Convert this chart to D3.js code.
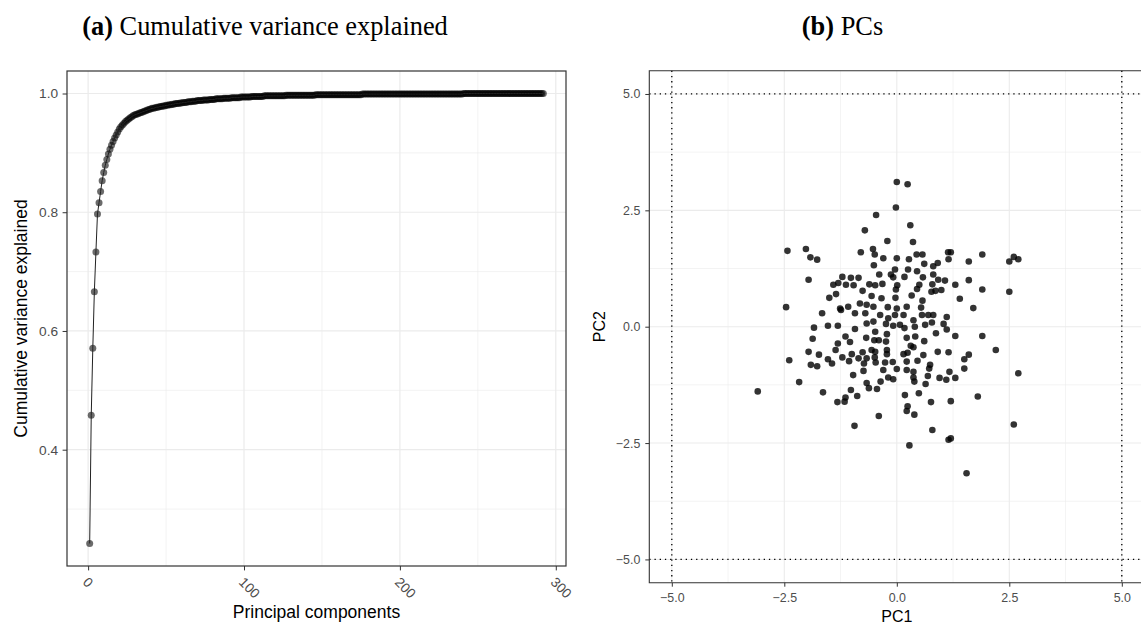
<!DOCTYPE html>
<html>
<head>
<meta charset="utf-8">
<script src="https://cdn.jsdelivr.net/npm/d3@7"></script>
<style>
html, body { margin: 0; padding: 0; background: #fff; overflow: hidden; }
svg { display: block; }
svg text { font-family: "Liberation Sans", Arial, sans-serif; }
.tick text { fill: #4d4d4d; }
.tick line { stroke: #333; }
.pa .tick text { font-size: 13.7px; }
.pb .tick text { font-size: 12.4px; }
.title { font-family: "Liberation Serif", "Times New Roman", serif !important; font-size: 26.4px; fill: #000; }
.axis-title { fill: #000; }
</style>
</head>
<body>
<div id="chart"></div>
<script>
// ---- data ----
// (a) cumulative variance explained, PC 1..292
var cumVar = [
  0.242,0.458,0.571,0.666,0.733,0.797,0.816,0.835,0.853,0.867,
  0.879,0.889,0.898,0.906,0.913,0.919,0.925,0.930,0.935,0.940,
  0.944,0.947,0.950,0.953,0.955,0.957,0.959,0.961,0.963,0.964,
  0.965,0.966,0.967,0.968,0.969,0.970,0.971,0.972,0.973,0.974,
  0.975,0.975,0.976,0.977,0.977,0.978,0.978,0.979,0.979,0.980,
  0.980,0.981,0.981,0.982,0.982,0.983,0.983,0.983,0.984,0.984,
  0.985,0.985,0.985,0.986,0.986,0.986,0.987,0.987,0.987,0.988,
  0.988,0.988,0.988,0.989,0.989,0.989,0.989,0.990,0.990,0.990,
  0.990,0.991,0.991,0.991,0.991,0.991,0.992,0.992,0.992,0.992,
  0.992,0.993,0.993,0.993,0.993,0.993,0.993,0.994,0.994,0.994,
  0.994,0.994,0.994,0.994,0.995,0.995,0.995,0.995,0.995,0.995,
  0.995,0.995,0.996,0.996,0.996,0.996,0.996,0.996,0.996,0.996,
  0.996,0.996,0.996,0.996,0.996,0.996,0.997,0.997,0.997,0.997,
  0.997,0.997,0.997,0.997,0.997,0.997,0.997,0.997,0.997,0.997,
  0.997,0.997,0.997,0.997,0.997,0.998,0.998,0.998,0.998,0.998,
  0.998,0.998,0.998,0.998,0.998,0.998,0.998,0.998,0.998,0.998,
  0.998,0.998,0.998,0.998,0.998,0.998,0.998,0.998,0.998,0.998,
  0.998,0.998,0.998,0.998,0.998,0.999,0.999,0.999,0.999,0.999,
  0.999,0.999,0.999,0.999,0.999,0.999,0.999,0.999,0.999,0.999,
  0.999,0.999,0.999,0.999,0.999,0.999,0.999,0.999,0.999,0.999,
  0.999,0.999,0.999,0.999,0.999,0.999,0.999,0.999,0.999,0.999,
  0.999,0.999,0.999,0.999,0.999,0.999,0.999,0.999,0.999,0.999,
  0.999,0.999,0.999,0.999,0.999,0.999,0.999,0.999,0.999,0.999,
  0.999,0.999,0.999,0.999,0.999,0.999,0.999,0.999,0.999,0.999,
  1.000,1.000,1.000,1.000,1.000,1.000,1.000,1.000,1.000,1.000,
  1.000,1.000,1.000,1.000,1.000,1.000,1.000,1.000,1.000,1.000,
  1.000,1.000,1.000,1.000,1.000,1.000,1.000,1.000,1.000,1.000,
  1.000,1.000,1.000,1.000,1.000,1.000,1.000,1.000,1.000,1.000,
  1.000,1.000,1.000,1.000,1.000,1.000,1.000,1.000,1.000,1.000,
  1.000,1.000
];
var pcIndex = cumVar.map(function(d, i) { return i + 1; });

// (b) PC scores
var pc1 = [
  0.00,0.24,-0.02,-0.46,0.30,-0.71,-0.21,0.36,-2.43,-2.02,
  -1.92,-1.77,-0.80,-0.53,-0.49,-0.30,0.00,0.27,0.44,0.57,
  0.61,0.81,0.91,1.15,1.14,-1.96,-0.51,-0.04,0.25,0.45,
  -0.13,-0.39,-0.08,0.17,0.58,0.81,0.92,1.07,-1.21,-1.02,
  -0.85,-1.41,-1.30,-1.13,-0.96,-0.61,-0.48,-0.32,0.01,-0.02,
  0.50,0.45,0.79,0.77,0.86,0.99,-1.35,-1.50,-0.76,-0.56,
  -0.34,-0.03,0.33,0.57,-2.46,-1.26,-1.08,-0.82,-0.67,-0.52,
  -0.20,0.00,0.22,0.54,-1.66,-1.24,-0.93,-0.70,-0.67,-0.52,
  -0.37,-0.19,-0.04,0.15,0.37,0.56,0.70,0.81,1.11,-1.84,
  -1.53,-1.31,-0.93,-0.48,-0.24,-0.08,0.07,0.17,0.40,0.63,
  0.78,1.04,1.11,0.87,-1.87,-1.14,-1.04,-1.31,-0.68,-0.50,
  -0.40,-0.24,-0.22,0.22,0.41,0.61,0.31,0.37,-1.96,-1.73,
  -1.36,-1.00,-0.76,-0.56,-0.48,-0.22,-0.22,0.15,0.24,0.59,
  0.91,1.15,-2.39,-1.91,-1.77,-1.53,-1.44,-1.21,-1.06,-0.85,
  -0.67,-0.73,-0.49,-0.47,-0.26,-0.09,0.22,0.46,0.74,0.72,
  0.00,0.22,0.37,-0.30,-0.74,-0.97,-0.19,-0.08,0.37,0.39,
  0.69,0.95,1.10,1.17,-2.17,-0.67,-0.62,-0.44,-0.36,0.64,
  -3.09,-1.64,-1.02,-0.88,-1.14,-1.32,-1.16,0.18,0.49,0.76,
  0.24,0.22,0.39,-0.40,-0.94,0.79,1.15,0.28,
  1.20,1.60,1.90,2.50,2.60,2.70,2.50,1.90,1.60,1.30,
  1.40,1.70,2.20,1.30,1.60,1.50,1.90,2.70,1.30,1.80,
  1.20,2.60,1.55,1.20,1.50
];
var pc2 = [
  3.11,3.06,2.56,2.40,2.18,2.07,1.84,1.82,1.63,1.67,
  1.49,1.44,1.60,1.67,1.55,1.47,1.47,1.45,1.55,1.55,
  1.35,1.30,1.37,1.45,1.60,1.01,1.32,1.23,1.23,1.19,
  1.12,1.12,1.06,1.07,1.06,1.12,1.01,0.99,1.07,1.05,
  1.05,0.90,0.94,0.90,0.89,0.91,0.89,0.92,0.89,0.80,
  0.90,0.81,0.91,0.75,0.77,0.79,0.70,0.62,0.77,0.66,
  0.61,0.62,0.67,0.56,0.42,0.39,0.43,0.50,0.47,0.43,
  0.42,0.39,0.43,0.41,0.29,0.36,0.29,0.29,0.07,0.11,
  0.25,0.18,0.25,0.25,0.14,0.25,0.25,0.25,0.21,-0.02,
  0.02,0.02,-0.05,-0.11,0.06,0.02,0.04,-0.03,0.00,0.04,
  0.09,0.06,-0.06,-0.14,-0.26,-0.21,-0.33,-0.36,-0.24,-0.29,
  -0.29,-0.32,-0.16,-0.24,-0.21,-0.31,-0.41,-0.44,-0.54,-0.60,
  -0.50,-0.59,-0.55,-0.50,-0.54,-0.50,-0.59,-0.59,-0.56,-0.61,
  -0.54,-0.55,-0.72,-0.82,-0.85,-0.70,-0.79,-0.66,-0.74,-0.68,
  -0.68,-0.79,-0.66,-0.77,-0.77,-0.76,-0.75,-0.73,-0.82,-0.90,
  -0.91,-0.93,-0.97,-0.93,-0.95,-1.04,-1.09,-1.13,-1.09,-1.18,
  -1.06,-1.10,-1.14,-0.97,-1.19,-1.21,-1.32,-1.34,-1.18,-1.23,
  -1.39,-1.41,-1.36,-1.49,-1.52,-1.62,-1.61,-1.47,-1.43,-1.62,
  -1.71,-1.81,-1.89,-1.92,-2.13,-2.22,-2.43,-2.55,
  1.60,1.40,1.55,1.40,1.50,1.45,0.75,0.80,1.00,0.90,
  0.60,0.40,-0.50,-0.20,-0.60,-0.70,-0.20,-1.00,-1.10,-1.50,
  -1.60,-2.10,-3.15,-2.40,-0.90
];
var scores = pc1.map(function(d, i) { return {x: d, y: pc2[i]}; });

var refLines = [-5, 5];

var svg = d3.select("#chart").append("svg")
  .attr("width", 1141)
  .attr("height", 626);

// ---------- panel (a) ----------
var aBox = {left: 67, top: 71, right: 566, bottom: 566};

var xA = d3.scaleLinear()
  .domain([1 - 0.05 * 291, 292 + 0.05 * 291])
  .range([aBox.left, aBox.right]);
var yA = d3.scaleLinear()
  .domain([0.242 - 0.05 * 0.758, 1.0 + 0.05 * 0.758])
  .range([aBox.bottom, aBox.top]);

var gA = svg.append("g").attr("class", "pa");

gA.append("rect")
  .attr("x", aBox.left).attr("y", aBox.top)
  .attr("width", aBox.right - aBox.left).attr("height", aBox.bottom - aBox.top)
  .attr("fill", "#fff");

// grid lines
gA.selectAll(".gx-minor").data([50, 150, 250]).enter().append("line")
  .attr("x1", d => xA(d)).attr("x2", d => xA(d))
  .attr("y1", aBox.top).attr("y2", aBox.bottom)
  .attr("stroke", "#ebebeb").attr("stroke-width", 0.6);
gA.selectAll(".gy-minor").data([0.3, 0.5, 0.7, 0.9]).enter().append("line")
  .attr("y1", d => yA(d)).attr("y2", d => yA(d))
  .attr("x1", aBox.left).attr("x2", aBox.right)
  .attr("stroke", "#ebebeb").attr("stroke-width", 0.6);
gA.selectAll(".gx").data([0, 100, 200, 300]).enter().append("line")
  .attr("x1", d => xA(d)).attr("x2", d => xA(d))
  .attr("y1", aBox.top).attr("y2", aBox.bottom)
  .attr("stroke", "#ebebeb").attr("stroke-width", 1.2);
gA.selectAll(".gy").data([0.4, 0.6, 0.8, 1.0]).enter().append("line")
  .attr("y1", d => yA(d)).attr("y2", d => yA(d))
  .attr("x1", aBox.left).attr("x2", aBox.right)
  .attr("stroke", "#ebebeb").attr("stroke-width", 1.2);

var line = d3.line()
  .x((d, i) => xA(pcIndex[i]))
  .y(d => yA(d));

gA.selectAll("circle").data(cumVar).enter().append("circle")
  .attr("cx", (d, i) => xA(pcIndex[i]))
  .attr("cy", d => yA(d))
  .attr("r", 3.5)
  .attr("fill", "#000")
  .attr("fill-opacity", 0.58);

gA.append("path")
  .datum(cumVar)
  .attr("d", line)
  .attr("fill", "none")
  .attr("stroke", "#222")
  .attr("stroke-width", 1);

gA.append("rect")
  .attr("x", aBox.left).attr("y", aBox.top)
  .attr("width", aBox.right - aBox.left).attr("height", aBox.bottom - aBox.top)
  .attr("fill", "none").attr("stroke", "#333").attr("stroke-width", 1.2);

var xAxisA = gA.append("g")
  .attr("transform", `translate(0, ${aBox.bottom})`)
  .call(d3.axisBottom(xA).tickValues([0, 100, 200, 300]).tickSize(4.4));
xAxisA.select(".domain").remove();
xAxisA.selectAll("text")
  .attr("x", 0).attr("y", 0).attr("dy", null)
  .attr("text-anchor", "start")
  .attr("transform", "translate(-6.5, 17) rotate(45)");

var yAxisA = gA.append("g")
  .attr("transform", `translate(${aBox.left}, 0)`)
  .call(d3.axisLeft(yA).tickValues([0.4, 0.6, 0.8, 1.0]).tickFormat(d3.format(".1f")).tickSize(4.4).tickPadding(4.5));
yAxisA.select(".domain").remove();

svg.append("text")
  .attr("class", "axis-title")
  .style("font-size", "17.5px")
  .attr("x", (aBox.left + aBox.right) / 2).attr("y", 618)
  .attr("text-anchor", "middle")
  .text("Principal components");

svg.append("text")
  .attr("class", "axis-title")
  .style("font-size", "17.5px")
  .attr("transform", `translate(26.7, ${(aBox.top + aBox.bottom) / 2}) rotate(-90)`)
  .attr("text-anchor", "middle")
  .text("Cumulative variance explained");

var tA = svg.append("text").attr("class", "title")
  .attr("x", 265).attr("y", 35).attr("text-anchor", "middle");
tA.append("tspan").attr("font-weight", "bold").text("(a)");
tA.append("tspan").text(" Cumulative variance explained");

// ---------- panel (b) ----------
var bBox = {left: 649.3, top: 70.7, right: 1146, bottom: 582.7};

var xB = d3.scaleLinear().domain([-5.5, 5.5]).range([bBox.left, 1144.3]);
var yB = d3.scaleLinear().domain([-5.5, 5.5]).range([bBox.bottom, bBox.top]);

var gB = svg.append("g").attr("class", "pb");

gB.append("rect")
  .attr("x", bBox.left).attr("y", bBox.top)
  .attr("width", bBox.right - bBox.left).attr("height", bBox.bottom - bBox.top)
  .attr("fill", "#fff");

var minorB = [-3.75, -1.25, 1.25, 3.75];
var majorB = [-5, -2.5, 0, 2.5, 5];

gB.selectAll(".gx-minor").data(minorB).enter().append("line")
  .attr("x1", d => xB(d)).attr("x2", d => xB(d))
  .attr("y1", bBox.top).attr("y2", bBox.bottom)
  .attr("stroke", "#ebebeb").attr("stroke-width", 0.6);
gB.selectAll(".gy-minor").data(minorB).enter().append("line")
  .attr("y1", d => yB(d)).attr("y2", d => yB(d))
  .attr("x1", bBox.left).attr("x2", bBox.right)
  .attr("stroke", "#ebebeb").attr("stroke-width", 0.6);
gB.selectAll(".gx").data(majorB).enter().append("line")
  .attr("x1", d => xB(d)).attr("x2", d => xB(d))
  .attr("y1", bBox.top).attr("y2", bBox.bottom)
  .attr("stroke", "#ebebeb").attr("stroke-width", 1.1);
gB.selectAll(".gy").data(majorB).enter().append("line")
  .attr("y1", d => yB(d)).attr("y2", d => yB(d))
  .attr("x1", bBox.left).attr("x2", bBox.right)
  .attr("stroke", "#ebebeb").attr("stroke-width", 1.1);

// dotted reference lines
gB.selectAll(".vref").data(refLines).enter().append("line")
  .attr("x1", d => xB(d)).attr("x2", d => xB(d))
  .attr("y1", bBox.top).attr("y2", bBox.bottom)
  .attr("stroke", "#000").attr("stroke-width", 1.3)
  .attr("stroke-dasharray", "1.3,3.9");
gB.selectAll(".href").data(refLines).enter().append("line")
  .attr("y1", d => yB(d)).attr("y2", d => yB(d))
  .attr("x1", bBox.left).attr("x2", bBox.right)
  .attr("stroke", "#000").attr("stroke-width", 1.3)
  .attr("stroke-dasharray", "1.3,3.9");

gB.selectAll("circle").data(scores).enter().append("circle")
  .attr("cx", d => xB(d.x))
  .attr("cy", d => yB(d.y))
  .attr("r", 3.3)
  .attr("fill", "#000")
  .attr("fill-opacity", 0.8);

gB.append("path")
  .attr("d", `M${bBox.right},${bBox.top}H${bBox.left}V${bBox.bottom}H${bBox.right}`)
  .attr("fill", "none").attr("stroke", "#333").attr("stroke-width", 1.1);

var xAxisB = gB.append("g")
  .attr("transform", `translate(0, ${bBox.bottom})`)
  .call(d3.axisBottom(xB).tickValues(majorB).tickFormat(d3.format(".1f")).tickSize(4).tickPadding(7));
xAxisB.select(".domain").remove();

var yAxisB = gB.append("g")
  .attr("transform", `translate(${bBox.left}, 0)`)
  .call(d3.axisLeft(yB).tickValues(majorB).tickFormat(d3.format(".1f")).tickSize(4).tickPadding(5));
yAxisB.select(".domain").remove();

svg.append("text")
  .attr("class", "axis-title")
  .style("font-size", "16px")
  .attr("x", xB(0)).attr("y", 621.7)
  .attr("text-anchor", "middle")
  .text("PC1");

svg.append("text")
  .attr("class", "axis-title")
  .style("font-size", "16px")
  .attr("transform", `translate(605, ${(bBox.top + bBox.bottom) / 2}) rotate(-90)`)
  .attr("text-anchor", "middle")
  .text("PC2");

var tB = svg.append("text").attr("class", "title")
  .attr("x", 842.5).attr("y", 35).attr("text-anchor", "middle");
tB.append("tspan").attr("font-weight", "bold").text("(b)");
tB.append("tspan").text(" PCs");
</script>
</body>
</html>
